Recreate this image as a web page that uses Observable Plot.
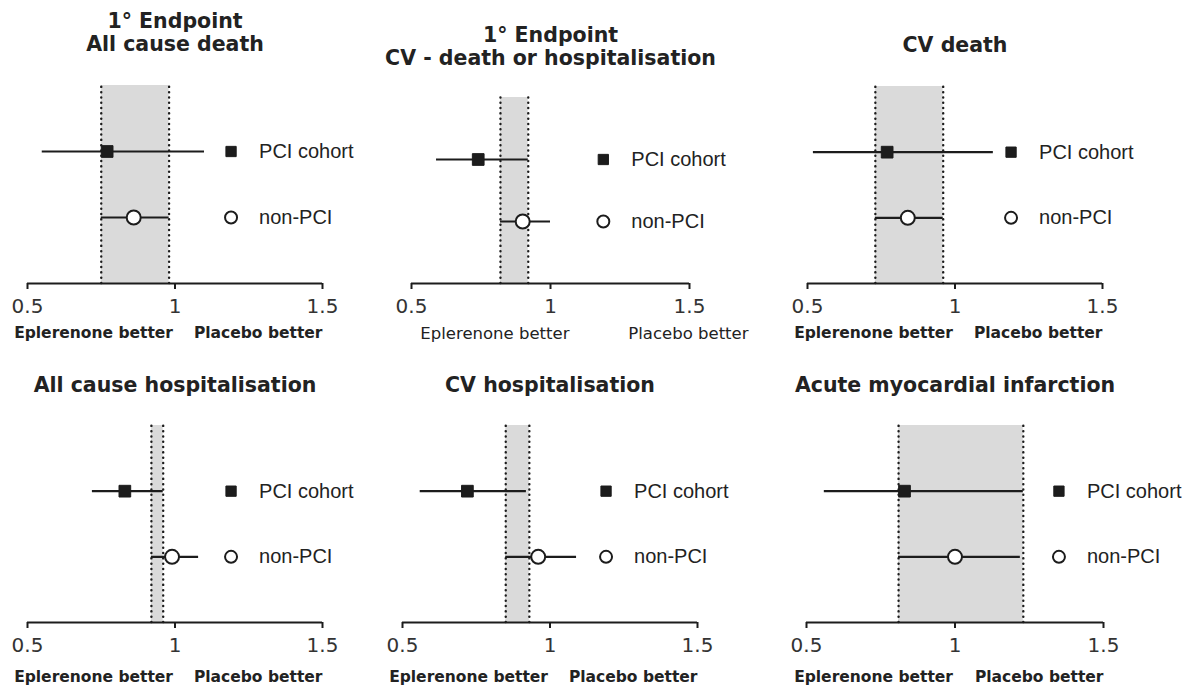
<!DOCTYPE html>
<html><head><meta charset="utf-8">
<script src="https://cdn.jsdelivr.net/npm/d3@7"></script>
<script src="https://cdn.jsdelivr.net/npm/@observablehq/plot@0.6"></script>
<style>
html,body{margin:0;padding:0;background:#fff;}
#chart{position:relative;width:1194px;height:692px;overflow:hidden;background:#fff;}
#chart > svg{position:absolute;}
</style></head><body><div id="chart"></div>
<script>
// ---- data ----
const titles = [
  ["1° Endpoint", "All cause death"],
  ["1° Endpoint", "CV - death or hospitalisation"],
  ["CV death"],
  ["All cause hospitalisation"],
  ["CV hospitalisation"],
  ["Acute myocardial infarction"]
];
const groups = ["PCI cohort", "non-PCI"];
const pciEst  = [0.77, 0.74, 0.77, 0.83, 0.72, 0.83];
const pciLow  = [0.55, 0.59, 0.52, 0.72, 0.56, 0.56];
const pciHigh = [1.10, 0.92, 1.13, 0.96, 0.92, 1.23];
const nonEst  = [0.86, 0.90, 0.84, 0.99, 0.96, 1.00];
const nonLow  = [0.75, 0.82, 0.73, 0.92, 0.85, 0.81];
const nonHigh = [0.98, 1.00, 0.96, 1.08, 1.09, 1.22];
const bandLow  = [0.75, 0.82, 0.73, 0.92, 0.85, 0.81];
const bandHigh = [0.98, 0.92, 0.96, 0.96, 0.93, 1.23];
const xTicks = [0.5, 1, 1.5];
const sideLabels = ["Eplerenone better", "Placebo better"];

// ---- layout (positions only) ----
const layout = [
  {left: 0,   top: 0,   width: 398, height: 345, mL: 27, mR: 76, mT: 85, mB: 62, legendX: 1.19, labelDy: 50, titleDy: -41},
  {left: 385, top: 0,   width: 400, height: 345, mL: 26, mR: 96, mT: 97, mB: 62, legendX: 1.19, labelDy: 50, titleDy: -39, plain: true},
  {left: 780, top: 0,   width: 414, height: 345, mL: 27, mR: 92, mT: 86, mB: 62, legendX: 1.19, labelDy: 50, titleDy: -41},
  {left: 0,   top: 345, width: 398, height: 347, mL: 27, mR: 76, mT: 80, mB: 70, legendX: 1.19, labelDy: 55, titleDy: -40},
  {left: 385, top: 345, width: 400, height: 347, mL: 17, mR: 88, mT: 80, mB: 70, legendX: 1.19, labelDy: 55, titleDy: -40},
  {left: 780, top: 345, width: 414, height: 347, mL: 26, mR: 91, mT: 80, mB: 70, legendX: 1.35, labelDy: 55, titleDy: -40}
];

const INK = "#1c1c1c";
const SANS = "DejaVu Sans";
const ARIAL = "Liberation Sans";

function panel(i) {
  const L = layout[i];
  const rows = [
    {group: groups[0], y: 2, est: pciEst[i], low: pciLow[i], high: pciHigh[i]},
    {group: groups[1], y: 1, est: nonEst[i], low: nonLow[i], high: nonHigh[i]}
  ];
  const band = [{x1: bandLow[i], x2: bandHigh[i]}];
  const t = titles[i];

  const marks = [
    Plot.rect(band, {x1: "x1", x2: "x2", y1: 0, y2: 3, fill: "#dadada"}),
    Plot.ruleX([bandLow[i], bandHigh[i]], {y1: 0, y2: 3, stroke: INK, strokeWidth: 2.4,
      strokeDasharray: "0.1,5.2", strokeLinecap: "round"}),
    Plot.ruleY([0], {stroke: INK, strokeWidth: 2}),
    Plot.axisX({ticks: xTicks, tickFormat: d => String(d), tickSize: 6, tickPadding: 9,
      strokeWidth: 2, fontSize: 20, fontFamily: SANS, fill: "#333", stroke: INK}),
    Plot.ruleY(rows, {y: "y", x1: "low", x2: "high", stroke: INK, strokeWidth: 2.2}),
    Plot.dot(rows.filter(d => d.y === 2), {x: "est", y: "y", symbol: "square", r: 6.6,
      fill: INK, stroke: INK, strokeWidth: 1}),
    Plot.dot(rows.filter(d => d.y === 1), {x: "est", y: "y", symbol: "circle", r: 7,
      fill: "white", stroke: INK, strokeWidth: 2}),
    // legend
    Plot.dot(rows.filter(d => d.y === 2), {x: () => L.legendX, y: "y", symbol: "square", r: 5.8,
      fill: INK, stroke: INK, strokeWidth: 1}),
    Plot.dot(rows.filter(d => d.y === 1), {x: () => L.legendX, y: "y", symbol: "circle", r: 6,
      fill: "white", stroke: INK, strokeWidth: 2}),
    Plot.text(rows, {x: () => L.legendX, y: "y", text: "group", dx: 28, textAnchor: "start",
      fontFamily: ARIAL, fontSize: 20, fill: "#222"})
  ];

  // title lines (stacked upward from the panel's top frame edge)
  t.forEach((s, k) => {
    marks.push(Plot.text([s], {x: () => 1, frameAnchor: "top", text: d => d,
      dy: L.titleDy - (t.length - 1 - k) * 23, lineAnchor: "middle",
      fontFamily: SANS, fontWeight: "bold", fontSize: 20.5, fill: "#222"}));
  });

  if (L.plain) {
    marks.push(
      Plot.text([sideLabels[0]], {x: () => 0.8, frameAnchor: "bottom", text: d => d, dy: L.labelDy,
        lineAnchor: "middle", textAnchor: "middle", fontFamily: SANS, fontSize: 16.5, fill: "#222"}),
      Plot.text([sideLabels[1]], {x: () => 1.28, frameAnchor: "bottom", text: d => d, dy: L.labelDy,
        lineAnchor: "middle", textAnchor: "start", fontFamily: SANS, fontSize: 16.5, fill: "#222"})
    );
  } else {
    marks.push(
      Plot.text([sideLabels[0]], {x: () => 1, frameAnchor: "bottom", text: d => d, dy: L.labelDy, dx: -2,
        lineAnchor: "middle", textAnchor: "end", fontFamily: SANS, fontWeight: "bold", fontSize: 15.5, fill: "#222"}),
      Plot.text([sideLabels[1]], {x: () => 1.5, frameAnchor: "bottom", text: d => d, dy: L.labelDy,
        lineAnchor: "middle", textAnchor: "end", fontFamily: SANS, fontWeight: "bold", fontSize: 15.5, fill: "#222"})
    );
  }

  const svg = Plot.plot({
    width: L.width, height: L.height,
    marginLeft: L.mL, marginRight: L.mR, marginTop: L.mT, marginBottom: L.mB,
    x: {domain: [0.5, 1.5]},
    y: {domain: [0, 3], axis: null},
    style: {background: "transparent", overflow: "visible", color: INK},
    marks
  });
  svg.style.left = L.left + "px";
  svg.style.top = L.top + "px";
  return svg;
}

const root = document.getElementById("chart");
for (let i = 0; i < 6; i++) root.appendChild(panel(i));
</script>
</body></html>
